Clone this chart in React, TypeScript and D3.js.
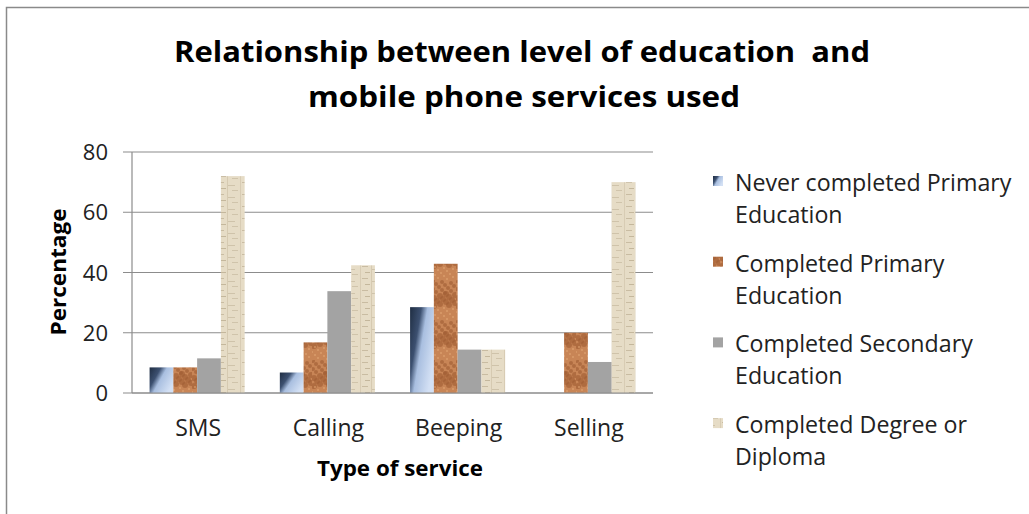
import React from "react";
import * as d3 from "d3";

const categories = ["SMS", "Calling", "Beeping", "Selling"];
const seriesNames = [
  "Never completed Primary Education",
  "Completed Primary Education",
  "Completed Secondary Education",
  "Completed Degree or Diploma",
];
const neverPrimary = [8.5, 6.8, 28.5, 0];
const completedPrimary = [8.5, 16.8, 42.9, 20];
const completedSecondary = [11.5, 33.8, 14.4, 10.3];
const completedDegree = [72, 42.4, 14.4, 70];
const yTicks = [0, 20, 40, 60, 80];
const legendLines = [
  ["Never completed Primary", "Education"],
  ["Completed Primary", "Education"],
  ["Completed Secondary", "Education"],
  ["Completed Degree or", "Diploma"],
];

const seriesValues = [neverPrimary, completedPrimary, completedSecondary, completedDegree];
const fills = ["url(#gradNever)", "url(#patPrimary)", "#a3a3a3", "url(#patDegree)"];
const FONT = "'Open Sans', 'Noto Sans', sans-serif";

export default function App() {
  const W = 1029, H = 514;
  const left = 132, right = 653, top = 152, bottom = 393;
  const x = d3.scaleBand<string>().domain(categories).range([left, right]).paddingInner(0.27).paddingOuter(0.135);
  const xs = d3.scaleBand<number>().domain(d3.range(seriesValues.length)).range([0, x.bandwidth()]);
  const y = d3.scaleLinear().domain([0, 80]).range([bottom, top]);

  const specks = d3.range(40).map((i) => ({
    x: (i * 37) % 24,
    y: (i * 53) % 40,
    r: 1 + ((i * 7) % 3),
  }));

  return (
    <svg width={W} height={H} style={{ display: "block", position: "absolute", left: 0, top: 0 }}>
      <defs>
        <linearGradient id="gradNever" x1="0" y1="0" x2="1" y2="0.6">
          <stop offset="0" stopColor="#1f2d42" />
          <stop offset="0.35" stopColor="#3c5070" />
          <stop offset="0.55" stopColor="#a9bfe0" />
          <stop offset="1" stopColor="#d3e0f4" />
        </linearGradient>
        <pattern id="patPrimary" width="24" height="40" patternUnits="userSpaceOnUse">
          <rect width="24" height="40" fill="#c88556" />
          {specks.map((s, i) => (
            <circle key={i} cx={s.x} cy={s.y} r={s.r} fill={i % 3 === 0 ? "#e5ac78" : "#9e5c32"} opacity={0.6} />
          ))}
        </pattern>
        <pattern id="patDegree" width="24" height="12" patternUnits="userSpaceOnUse">
          <rect width="24" height="12" fill="#e6dcc6" />
          <rect x="2" y="2" width="6" height="1" fill="#c9bca2" />
          <rect x="12" y="5" width="7" height="1" fill="#cfc3aa" />
          <rect x="5" y="8" width="5" height="1" fill="#c4b79c" />
          <rect x="16" y="10" width="6" height="1" fill="#d0c4ab" />
          <rect x="0" y="0" width="1" height="12" fill="#d8ccb4" />
          <rect x="11" y="0" width="1" height="12" fill="#d6cab1" />
        </pattern>
      </defs>
      <rect x={0} y={0} width={W} height={H} fill="#fff" />
      <rect x={6.5} y={7.5} width={W + 20} height={H + 20} fill="none" stroke="#8a8a8a" strokeWidth={1.5} />

      <text x={522} y={62} textAnchor="middle" fontFamily={FONT} fontWeight="bold" fontSize={29} textLength={696} lengthAdjust="spacingAndGlyphs" fill="#000" style={{ whiteSpace: "pre" }}>
        {"Relationship between level of education  and"}
      </text>
      <text x={524} y={107} textAnchor="middle" fontFamily={FONT} fontWeight="bold" fontSize={29} textLength={432} lengthAdjust="spacingAndGlyphs" fill="#000">
        mobile phone services used
      </text>

      {yTicks.map((t) => (
        <g key={t}>
          <line x1={123} x2={right} y1={y(t)} y2={y(t)} stroke="#8c8c8c" strokeWidth={1.2} />
          <text x={108} y={y(t) + 8} textAnchor="end" fontFamily={FONT} fontSize={22} fill="#222">
            {t}
          </text>
        </g>
      ))}
      <line x1={left} x2={left} y1={top} y2={bottom} stroke="#8c8c8c" strokeWidth={1.2} />

      {categories.map((c, ci) => (
        <g key={c}>
          {seriesValues.map((vals, si) =>
            vals[ci] > 0 ? (
              <rect
                key={si}
                x={(x(c) as number) + (xs(si) as number)}
                y={y(vals[ci])}
                width={xs.bandwidth()}
                height={bottom - y(vals[ci])}
                fill={fills[si]}
              />
            ) : null
          )}
          <text x={(x(c) as number) + x.bandwidth() / 2 + 1} y={436} textAnchor="middle" fontFamily={FONT} fontSize={23} fill="#222">
            {c}
          </text>
        </g>
      ))}
      <line x1={left} x2={right} y1={bottom} y2={bottom} stroke="#8c8c8c" strokeWidth={1.2} />

      <text x={400} y={476} textAnchor="middle" fontFamily={FONT} fontWeight="bold" fontSize={21} textLength={166} lengthAdjust="spacingAndGlyphs" fill="#000">
        Type of service
      </text>
      <text transform="translate(66,272) rotate(-90)" textAnchor="middle" fontFamily={FONT} fontWeight="bold" fontSize={21} textLength={127} lengthAdjust="spacingAndGlyphs" fill="#000">
        Percentage
      </text>

      {seriesNames.map((name, i) => {
        const y0 = 183 + i * 80.7;
        return (
          <g key={name}>
            <rect x={713} y={y0 - 7} width={10} height={10} fill={fills[i]} />
            <text fontFamily={FONT} fontSize={23.2} fill="#222">
              <tspan x={735} y={y0 + 8}>{legendLines[i][0]}</tspan>
              <tspan x={735} y={y0 + 40}>{legendLines[i][1]}</tspan>
            </text>
          </g>
        );
      })}
    </svg>
  );
}
